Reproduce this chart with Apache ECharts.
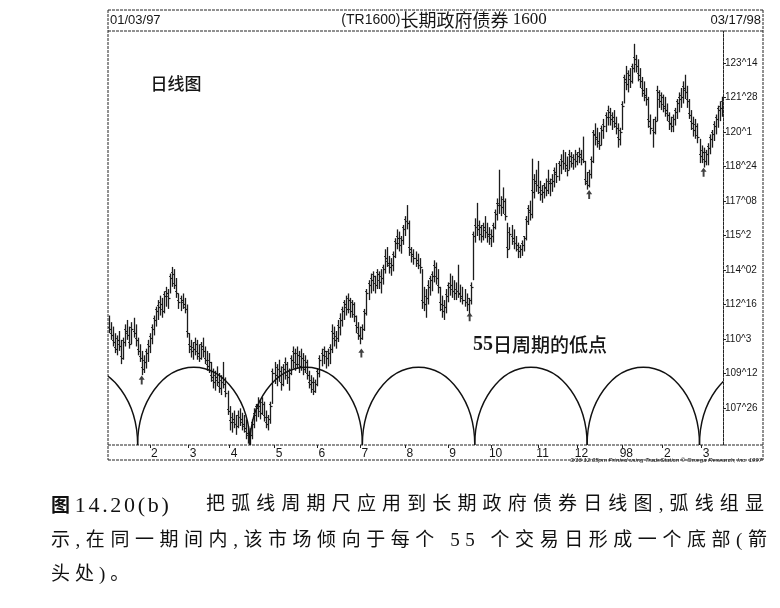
<!DOCTYPE html>
<html>
<head>
<meta charset="utf-8">
<script src="https://cdn.jsdelivr.net/npm/echarts@6/dist/echarts.min.js"></script>
<style>
  html, body { margin: 0; padding: 0; background: #fff; }
  #wrap { position: relative; width: 780px; height: 608px; }
  #chart { position: absolute; left: 0; top: 0; width: 780px; height: 608px; }
  #cap { position: absolute; left: 51px; top: 487px; width: 718px; color: #111;
         font-family: "Liberation Serif", "Noto Sans CJK SC", serif; font-size: 19px; line-height: 34px; }
  #cap div { white-space: nowrap; }
  #cap .l1 { display: flex; }
  #cap .l1 .head { width: 155px; }
  #cap .l1 .num { font-size: 22px; letter-spacing: 2.7px; }
  #cap .l1 .rest { flex: 1; letter-spacing: 5px; text-align: justify; text-align-last: justify; }
  #cap .l2 { letter-spacing: 5.55px; }
  #cap .l3 { letter-spacing: 5px; }
</style>
</head>
<body>
<div id="wrap">
  <div id="chart"></div>
  <div id="cap">
    <div class="l1"><span class="head"><b style="font-family:'Noto Sans CJK SC'">图</b> <span class="num">14.20(b)</span></span><span class="rest">把弧线周期尺应用到长期政府债券日线图,弧线组显</span></div>
    <div class="l2">示,在同一期间内,该市场倾向于每个 55 个交易日形成一个底部(箭</div>
    <div class="l3">头处)。</div>
  </div>
</div>
<script>
// 日线数据：最高、最低、收盘
const highs = [
  112.0, 111.7, 111.5, 111.2, 111.1, 111.3, 110.9, 111.0, 111.6, 111.8,
  111.5, 111.7, 111.9, 111.6, 111.0, 110.7, 110.4, 110.2, 110.5, 110.9,
  111.2, 111.6, 112.0, 112.4, 112.7, 112.9, 112.8, 113.1, 113.3, 113.2,
  113.9, 114.2, 114.1, 113.7, 113.0, 112.9, 113.0, 112.8, 112.5, 111.2,
  110.9, 110.8, 111.0, 110.9, 110.7, 110.8, 111.0, 110.6, 110.4, 110.3,
  109.9, 109.6, 109.5, 109.7, 109.4, 109.3, 109.9, 109.2, 108.6, 107.9,
  107.6, 107.7, 107.5, 107.7, 107.8, 107.6, 107.5, 107.3, 107.0, 106.9,
  107.3, 107.8, 108.0, 108.3, 108.2, 108.3, 108.1, 107.7, 107.5, 108.1,
  109.6, 109.9, 109.8, 110.0, 109.7, 109.8, 110.1, 109.9, 109.6, 110.2,
  110.6, 110.5, 110.6, 110.4, 110.5, 110.3, 110.2, 110.0, 109.5, 109.3,
  109.2, 109.1, 109.6, 110.2, 110.5, 110.6, 110.4, 110.5, 110.7, 111.6,
  111.5, 111.3, 111.8, 112.1, 112.4, 112.7, 112.9, 113.0, 112.8, 112.7,
  112.6, 112.0, 111.7, 111.5, 111.6, 112.3, 113.2, 113.6, 113.9, 114.0,
  113.8, 114.1, 114.0, 114.1, 114.3, 115.0, 115.1, 114.7, 114.6, 114.9,
  115.5, 115.9, 115.8, 115.6, 116.1, 116.5, 117.0, 116.3, 115.1, 115.0,
  114.9, 114.8, 114.6, 114.1, 113.3, 113.2, 113.6, 113.8, 114.0, 114.5,
  114.4, 114.1, 113.3, 112.9, 112.7, 113.2, 113.5, 113.9, 113.8, 113.6,
  113.5, 114.3, 113.4, 113.3, 113.2, 113.0, 112.8, 113.5, 115.8, 116.4,
  117.1, 116.3, 116.1, 116.2, 116.5, 116.2, 116.0, 115.9, 116.2, 116.8,
  117.3, 118.6, 117.4, 117.8, 117.3, 116.2, 116.0, 116.1, 115.9, 115.6,
  115.3, 115.2, 115.4, 115.6, 116.5, 117.0, 117.2, 119.1, 118.4, 118.6,
  119.0, 118.1, 117.9, 118.0, 118.2, 118.6, 118.2, 118.4, 118.7, 118.9,
  119.0, 119.3, 119.5, 119.4, 119.2, 119.5, 119.4, 119.3, 119.5, 119.4,
  119.6, 119.5, 120.1, 119.0, 118.5, 118.6, 119.2, 120.4, 120.7, 120.5,
  120.3, 120.6, 120.9, 121.2, 121.5, 121.4, 121.2, 121.3, 121.0, 120.7,
  120.5, 121.7, 122.9, 123.3, 123.1, 123.2, 123.4, 124.3, 123.8, 123.6,
  123.2, 122.8, 122.6, 122.3, 121.9, 121.1, 120.9, 121.0, 122.4, 122.2,
  122.1, 122.0, 121.9, 121.6, 121.2, 121.0, 121.1, 121.4, 121.8, 122.1,
  122.3, 122.6, 122.9, 122.4, 121.8, 121.3, 121.0, 120.9, 120.7, 120.0,
  119.7, 119.6, 119.5, 119.8, 120.2, 120.4, 120.8, 121.1, 121.5, 121.7,
  121.9
];
const lows = [
  111.2, 110.9, 110.6, 110.3, 110.2, 110.4, 109.8, 110.0, 110.6, 110.9,
  110.5, 110.7, 111.0, 110.6, 110.2, 109.9, 109.3, 109.4, 109.6, 109.9,
  110.3, 110.7, 111.1, 111.5, 111.8, 112.0, 111.9, 112.1, 112.4, 112.3,
  113.0, 113.3, 113.2, 112.8, 112.3, 112.2, 112.3, 112.1, 111.0, 110.3,
  110.1, 110.0, 110.2, 110.0, 109.9, 110.0, 110.1, 109.8, 109.5, 109.4,
  109.0, 108.7, 108.6, 108.8, 108.5, 108.4, 108.7, 108.3, 107.5, 106.8,
  106.7, 106.9, 106.6, 106.9, 107.0, 106.8, 106.7, 106.4, 106.2, 106.1,
  106.4, 106.9, 107.2, 107.4, 107.3, 107.5, 107.2, 106.9, 106.8, 107.1,
  108.0, 108.9, 108.8, 109.0, 108.6, 108.8, 109.1, 108.9, 108.6, 109.3,
  109.6, 109.5, 109.6, 109.4, 109.5, 109.3, 109.4, 109.1, 108.7, 108.5,
  108.4, 108.5, 108.8, 109.2, 109.7, 109.8, 109.6, 109.7, 109.8, 110.3,
  110.6, 110.5, 110.8, 111.1, 111.5, 111.8, 112.0, 112.1, 111.9, 111.9,
  111.7, 111.2, 110.9, 110.7, 110.9, 111.3, 112.0, 112.7, 113.0, 113.1,
  113.0, 113.2, 113.2, 113.0, 113.4, 113.9, 114.2, 113.9, 113.8, 114.0,
  114.6, 115.0, 114.9, 114.8, 115.2, 115.6, 115.9, 114.7, 114.4, 114.3,
  114.2, 114.1, 113.9, 112.3, 112.2, 111.9, 112.5, 112.9, 113.1, 113.5,
  113.4, 113.0, 112.2, 111.9, 111.8, 112.1, 112.6, 112.9, 112.8, 112.7,
  112.7, 112.8, 112.6, 112.5, 112.4, 112.2, 112.1, 112.5, 113.6, 115.3,
  115.6, 115.4, 115.3, 115.4, 115.5, 115.3, 115.2, 115.1, 115.3, 115.9,
  116.3, 116.6, 116.5, 116.6, 116.3, 114.6, 115.0, 115.2, 115.0, 114.9,
  114.6, 114.6, 114.7, 114.9, 115.4, 116.1, 116.3, 116.4, 117.3, 117.6,
  117.5, 117.2, 117.1, 117.3, 117.4, 117.5, 117.4, 117.6, 117.8, 118.0,
  118.1, 118.4, 118.6, 118.5, 118.3, 118.6, 118.7, 118.6, 118.7, 118.8,
  118.9, 118.8, 118.9, 117.9, 117.7, 117.8, 118.2, 118.9, 119.7, 119.6,
  119.5, 119.7, 120.0, 120.3, 120.6, 120.6, 120.4, 120.5, 120.2, 119.6,
  119.7, 120.4, 121.6, 122.2, 122.1, 122.3, 122.5, 123.0, 123.0, 122.6,
  122.3, 121.9, 121.7, 121.5, 120.5, 120.2, 119.6, 120.2, 120.8, 121.4,
  121.3, 121.2, 121.0, 120.8, 120.4, 120.3, 120.3, 120.6, 120.9, 121.2,
  121.4, 121.6, 121.8, 121.4, 120.9, 120.4, 120.1, 120.0, 119.8, 118.9,
  118.9, 118.7, 118.8, 118.8, 119.3, 119.6, 119.9, 120.2, 120.5, 120.8,
  121.0
];
const closes = [
  111.4, 111.1, 110.8, 110.5, 110.9, 110.6, 110.1, 110.8, 111.3, 111.1,
  110.7, 111.4, 111.2, 110.9, 110.4, 110.1, 109.6, 109.9, 110.3, 110.6,
  111.0, 111.4, 111.8, 112.2, 112.4, 112.5, 112.2, 112.9, 113.0, 112.8,
  113.7, 113.9, 113.4, 113.0, 112.6, 112.7, 112.5, 112.3, 111.2, 110.6,
  110.4, 110.5, 110.7, 110.3, 110.1, 110.6, 110.4, 110.0, 109.7, 109.9,
  109.2, 109.0, 109.2, 109.0, 108.7, 109.0, 108.9, 108.5, 107.7, 107.2,
  107.3, 107.1, 107.0, 107.4, 107.3, 107.1, 106.9, 106.7, 106.5, 106.6,
  107.1, 107.5, 107.8, 107.9, 107.6, 108.0, 107.4, 107.1, 107.3, 107.9,
  109.4, 109.3, 109.6, 109.5, 108.9, 109.6, 109.8, 109.2, 109.4, 110.0,
  110.3, 109.8, 110.2, 109.7, 110.1, 109.6, 109.9, 109.3, 108.9, 109.0,
  108.6, 108.9, 109.4, 110.0, 110.2, 110.4, 110.1, 110.3, 110.5, 111.2,
  110.9, 111.0, 111.5, 111.8, 112.2, 112.5, 112.3, 112.7, 112.2, 112.5,
  112.0, 111.5, 111.1, 111.0, 111.4, 112.1, 113.0, 113.4, 113.6, 113.8,
  113.4, 113.9, 113.5, 113.7, 114.1, 114.6, 114.4, 114.2, 114.3, 114.7,
  115.3, 115.5, 115.2, 115.4, 115.9, 116.3, 116.2, 115.0, 114.8, 114.6,
  114.5, 114.3, 114.2, 112.6, 112.5, 112.8, 113.3, 113.6, 113.8, 114.2,
  113.7, 113.3, 112.5, 112.2, 112.4, 112.9, 113.3, 113.4, 113.1, 113.0,
  113.1, 113.0, 112.9, 112.7, 112.6, 112.5, 112.7, 113.3, 115.6, 116.0,
  115.9, 116.0, 115.6, 116.0, 115.8, 115.7, 115.5, 115.6, 116.0, 116.6,
  117.0, 117.0, 116.9, 117.2, 116.5, 115.0, 115.7, 115.5, 115.3, 115.2,
  114.9, 115.0, 115.2, 115.5, 116.3, 116.8, 116.6, 117.6, 118.1, 117.9,
  117.8, 117.5, 117.6, 117.8, 117.7, 118.0, 118.0, 118.1, 118.5, 118.3,
  118.8, 119.0, 118.9, 118.8, 118.6, 119.2, 118.9, 119.1, 119.0, 119.2,
  119.3, 119.1, 119.0, 118.1, 117.9, 118.4, 119.0, 120.2, 120.1, 119.9,
  119.7, 120.4, 120.6, 121.0, 121.2, 120.9, 121.0, 120.7, 120.5, 120.0,
  120.3, 121.5, 122.7, 122.5, 122.9, 122.6, 123.2, 123.6, 123.3, 122.9,
  122.6, 122.2, 122.0, 121.8, 120.8, 120.5, 120.3, 120.8, 122.1, 121.7,
  121.9, 121.5, 121.3, 121.1, 120.7, 120.6, 120.9, 121.2, 121.6, 121.8,
  121.9, 122.3, 122.1, 121.7, 121.1, 120.7, 120.4, 120.6, 120.1, 119.2,
  119.4, 119.0, 119.3, 119.6, 120.0, 120.2, 120.6, 120.9, 121.3, 121.4,
  121.6
];

// 月份刻度（交易日序号）
const monthStarts = [20, 39, 59, 81, 102, 123, 145, 166, 187, 210, 229, 251, 271, 290];
const monthLabels = ['2', '3', '4', '5', '6', '7', '8', '9', '10', '11', '12', '98', '2', '3'];

// 价格刻度（1/32 报价）
const yTickValues = [107.8125, 109.375, 110.9375, 112.5, 114.0625, 115.625, 117.1875, 118.75, 120.3125, 121.875, 123.4375];
const yTickLabels = ['107^26', '109^12', '110^3', '112^16', '114^02', '115^2', '117^08', '118^24', '120^1', '121^28', '123^14'];

// 55日弧线周期：起点、终点、弧顶
const arcStarts = [-41, 14, 69, 124, 179, 234, 289];
const arcEnds = [14, 69, 124, 179, 234, 289, 344];
const arcTop = 109.66;

// 箭头（周期低点）
const arrowBars = [16, 123.5, 176.5, 235, 291];
const arrowPrices = [109.08, 110.30, 111.94, 117.48, 118.49];

const yMin = 106.14, yMax = 124.88;

const chart = echarts.init(document.getElementById('chart'), null, { renderer: 'canvas' });

const barData = highs.map((h, i) => [i, h, lows[i], closes[i]]);
const arcData = arcStarts.map((s, i) => [s, arcEnds[i]]);
const arrowData = arrowBars.map((b, i) => [b, arrowPrices[i]]);

const ink = '#161616';
const dash = [3, 1];
const frameLine = (x1, y1, x2, y2) => ({
  type: 'line', silent: true,
  shape: { x1, y1, x2, y2 },
  style: { stroke: '#222', lineWidth: 1, lineDash: dash }
});

const option = {
  animation: false,
  backgroundColor: '#fff',
  grid: { left: 108, right: 57, top: 31, bottom: 163 },
  xAxis: {
    type: 'value',
    min: -0.5,
    max: 300.5,
    splitLine: { show: false },
    axisLine: { show: false, onZero: false },
    axisTick: {
      show: true, customValues: monthStarts, length: 3,
      lineStyle: { color: '#222', width: 1 }
    },
    axisLabel: {
      customValues: monthStarts,
      formatter: v => monthLabels[monthStarts.indexOf(v)],
      color: ink, fontSize: 12, fontFamily: 'Liberation Sans',
      margin: 3, padding: [0, 0, 0, 9]
    }
  },
  yAxis: {
    type: 'value',
    position: 'right',
    min: yMin,
    max: yMax,
    splitLine: { show: false },
    axisLine: { show: true, onZero: false, lineStyle: { color: '#222', width: 1, type: dash } },
    axisTick: {
      show: true, customValues: yTickValues, length: 3,
      lineStyle: { color: '#222', width: 1 }
    },
    axisLabel: {
      customValues: yTickValues,
      formatter: v => yTickLabels[yTickValues.indexOf(v)],
      color: ink, fontSize: 10, fontFamily: 'Liberation Sans', margin: 2
    }
  },
  series: [
    {
      name: 'bars',
      type: 'custom',
      clip: true,
      data: barData,
      renderItem(params, api) {
        const x = api.value(0);
        const hi = api.coord([x, api.value(1)]);
        const lo = api.coord([x, api.value(2)]);
        const cl = api.coord([x, api.value(3)]);
        const px = Math.round(hi[0]) + 0.5;
        const cy = Math.round(cl[1]) + 0.5;
        return {
          type: 'group',
          children: [
            { type: 'line', shape: { x1: px, y1: hi[1], x2: px, y2: lo[1] }, style: { stroke: '#1c1c1c', lineWidth: 1.3 } },
            { type: 'line', shape: { x1: px - 1.5, y1: cy - 2, x2: px, y2: cy - 2 }, style: { stroke: '#333', lineWidth: 1 } },
            { type: 'line', shape: { x1: px, y1: cy, x2: px + 2, y2: cy }, style: { stroke: '#1c1c1c', lineWidth: 1.2 } }
          ]
        };
      }
    },
    {
      name: 'arcs',
      type: 'custom',
      clip: true,
      data: arcData,
      renderItem(params, api) {
        const a = api.coord([api.value(0), yMin]);
        const b = api.coord([api.value(1), yMin]);
        const t = api.coord([(api.value(0) + api.value(1)) / 2, arcTop]);
        const rx = (b[0] - a[0]) / 2;
        const ry = a[1] - t[1];
        return {
          type: 'path',
          shape: { pathData: `M${a[0]},${a[1]} A${rx},${ry} 0 0 1 ${b[0]},${b[1]}` },
          style: { stroke: '#111', lineWidth: 1.4, fill: null }
        };
      }
    },
    {
      name: 'arrows',
      type: 'scatter',
      data: arrowData,
      symbol: 'path://M5,0 L10,6 L6.6,6 L6.6,13 L3.4,13 L3.4,6 L0,6 Z',
      symbolSize: [6, 9],
      itemStyle: { color: '#111' },
      silent: true
    }
  ],
  graphic: [
    frameLine(108, 10, 763, 10),
    frameLine(108, 31, 763, 31),
    frameLine(108, 10, 108, 460),
    frameLine(763, 10, 763, 460),
    frameLine(108, 445, 763, 445),
    frameLine(108, 460, 763, 460),
    {
      type: 'text', left: 110, top: 14,
      style: { text: '01/03/97', fill: ink, font: '13px "Liberation Sans"' }
    },
    {
      type: 'text', right: 19, top: 14,
      style: { text: '03/17/98', fill: ink, font: '13px "Liberation Sans"' }
    },
    {
      type: 'text', x: 444, y: 20,
      style: {
        text: '{a|(TR1600)}{b|长期政府债券}{c| 1600}',
        align: 'center', verticalAlign: 'middle',
        rich: {
          a: { fontSize: 14, fontFamily: 'Liberation Sans', fill: ink },
          b: { fontSize: 18, fontFamily: 'Noto Sans CJK SC', fill: ink },
          c: { fontSize: 17, fontFamily: 'Liberation Serif', fill: ink }
        }
      }
    },
    {
      type: 'text', x: 176, y: 84,
      style: {
        text: '日线图', fill: ink, align: 'center', verticalAlign: 'middle',
        font: '500 17px "Noto Sans CJK SC"'
      }
    },
    {
      type: 'text', x: 540, y: 345,
      style: {
        text: '{a|55}{b|日周期的低点}',
        align: 'center', verticalAlign: 'middle',
        rich: {
          a: { fontSize: 20, fontFamily: 'Liberation Serif', fontWeight: 'bold', fill: ink },
          b: { fontSize: 19, fontFamily: 'Noto Sans CJK SC', fontWeight: 500, fill: ink }
        }
      }
    },
    {
      type: 'text', right: 18, top: 457,
      style: {
        text: '3/16 12:05pm Printed using TradeStation © Omega Research, Inc. 1997',
        fill: ink, font: 'italic 6px "Liberation Sans"'
      }
    }
  ]
};

chart.setOption(option);
</script>
</body>
</html>
